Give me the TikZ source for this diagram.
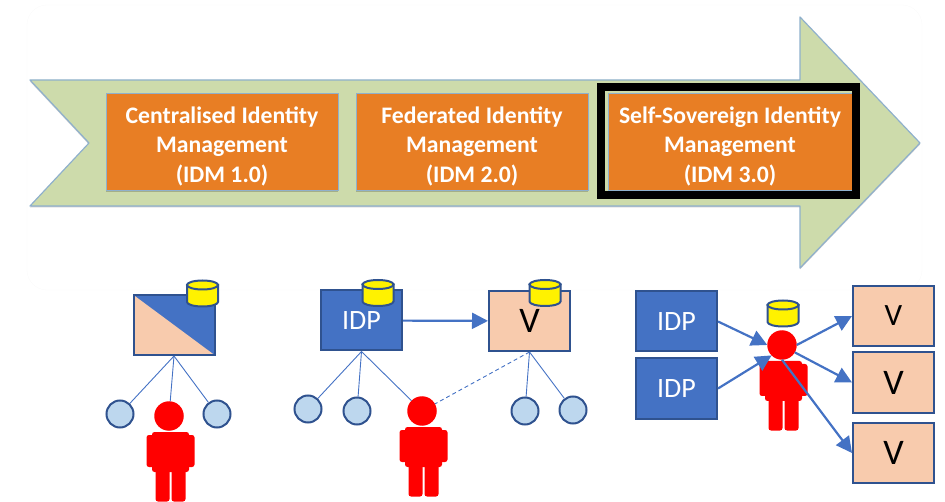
\documentclass[tikz,border=0pt]{standalone}
\usepackage{fontspec}
\setmainfont{Carlito}
\usetikzlibrary{arrows.meta,shadows}
\definecolor{band}{HTML}{CDDBAB}
\definecolor{bandline}{HTML}{8FB0CC}
\definecolor{stage}{HTML}{E87E24}
\definecolor{idpblue}{HTML}{4472C4}
\definecolor{darkblue}{HTML}{2F528F}
\definecolor{peach}{HTML}{F8CBAD}
\definecolor{pale}{HTML}{BDD7EE}
\tikzset{
  softshadow/.style={drop shadow={shadow xshift=0pt,shadow yshift=-1.5pt,opacity=.2,fill=black}},
  stagebox/.style={draw=bandline,line width=1pt,fill=stage,softshadow,minimum width=232pt,minimum height=97pt,inner sep=0pt},
  stagetext/.style={inner sep=0pt,align=center,text=white,font=\fontsize{23.7}{29.5}\selectfont\bfseries},
  roundbox/.style={draw=darkblue,line width=2pt,minimum width=81pt,minimum height=60pt,inner sep=0pt},
  idpbox/.style={roundbox,fill=idpblue,text=white,font=\fontsize{28}{30}\selectfont},
  vbox/.style={roundbox,fill=peach,text=black,font=\fontsize{36}{38}\selectfont},
  store/.pic={
    \draw [darkblue,line width=2pt,fill=yellow] (-15.5,-8.5) -- (-15.5,8.5) arc [start angle=180,end angle=360,x radius=15.5pt,y radius=4.5pt] -- (15.5,-8.5) -- cycle;
    \draw [darkblue,line width=2pt,fill=yellow] (0,-8.5) ellipse [x radius=15.5pt,y radius=4.5pt];
  },
  holder/.style={circle,draw=darkblue,line width=2pt,fill=pale,minimum size=27pt,inner sep=0pt},
  link/.style={idpblue,line width=.9pt},
  flow/.style={idpblue,line width=2.2pt,-{Triangle[length=16pt,width=16pt]}},
  redpart/.style={fill=red,inner sep=0pt,outer sep=0pt,rounded corners=2.5pt},
  person/.pic={
    \node [redpart,minimum width=48pt,minimum height=32pt] (-arms) at (1.5,35) {};
    \node [redpart,minimum width=37pt,minimum height=40pt] (-torso) at (1.5,36) {};
    \node [redpart,minimum width=14pt,minimum height=34pt] (-legl) at (-6.5,68.5) {};
    \node [redpart,minimum width=14pt,minimum height=34pt] (-legr) at (9.5,68.5) {};
    \node [circle,fill=red,minimum size=29.5pt,inner sep=0pt,outer sep=0pt] (-head) at (0,0) {};
  }
}
\begin{document}
\begin{tikzpicture}[x=1pt,y=-1pt]
\useasboundingbox (0,0) rectangle (945,502);
\draw [black!2,rounded corners=20pt] (27,5) rectangle (922,290);
\draw [bandline,line width=1.2pt,fill=band,softshadow,line join=round] (30,80) -- (800,80) -- (800,17) -- (920,143) -- (800,268) -- (800,206) -- (30,206) -- (89,143) -- cycle;
\node [stagebox] (s1) at (222,142.5) {};
\node [stagebox] (s2) at (472,142.5) {};
\node [stagebox,minimum width=244pt] (s3) at (730,142.5) {};
\node [stagetext] (t1) at (222,146) {Centralised Identity\\Management\\(IDM 1.0)};
\node [stagetext] (t2) at (472,146) {Federated Identity\\Management\\(IDM 2.0)};
\node [stagetext] (t3) at (730,146) {Self-Sovereign Identity\\Management\\(IDM 3.0)};
\node [draw=black,line width=8pt,minimum width=255pt,minimum height=108pt,inner sep=0pt] (focus) at (728.5,141) {};
\node [roundbox,fill=idpblue,path picture={\fill [peach] (path picture bounding box.north west) -- (path picture bounding box.south east) -- (path picture bounding box.south west) -- cycle;}] (central) at (174,325) {};
\node [idpbox] (idp1) at (361.5,320.5) {IDP};
\node [vbox] (v1) at (529.5,321) {V};
\node [idpbox] (idp2) at (676.5,321.5) {IDP};
\node [idpbox] (idp3) at (676.5,388.5) {IDP};
\node [vbox,font=\fontsize{31}{33}\selectfont] (v2) at (893.5,316) {V};
\node [vbox] (v3) at (893.5,382.5) {V};
\node [vbox] (v4) at (893.5,453) {V};
\pic (d1) at (202.5,293.5) {store};
\pic (d2) at (378,293) {store};
\pic (d3) at (545,293) {store};
\pic (d4) at (783,313.5) {store};
\node [holder] (c1) at (120,414) {};
\node [holder] (c2) at (217,414) {};
\node [holder] (c3) at (308,409) {};
\node [holder] (c4) at (357,411) {};
\node [holder] (c5) at (525,411) {};
\node [holder] (c6) at (573,410) {};
\pic (p1) at (169,416) {person};
\pic (p2) at (422,411) {person};
\pic (p3) at (782,345) {person};
\draw [link] (central.south) edge (c1);
\draw [link] (central.south) edge (p1-head);
\draw [link] (central.south) edge (c2);
\draw [link] (idp1.south) edge (c3);
\draw [link] (idp1.south) edge (c4);
\draw [link] (idp1.south) edge (p2-head);
\draw [link,dash pattern=on 4pt off 3pt] (v1.south) edge (p2-head);
\draw [link] (v1.south) edge (c5);
\draw [link] (v1.south) edge (c6);
\draw [flow] (idp1) -- (v1);
\draw [flow] (idp2.east) -- (p3-head.west);
\draw [flow] (idp3.east) -- (p3-head.225);
\draw [flow] (p3-head.east) -- (v2.west);
\draw [flow] (p3-head.-30) -- (v3.west);
\draw [flow] (p3-head.south) -- (v4.west);
\end{tikzpicture}
\end{document}
